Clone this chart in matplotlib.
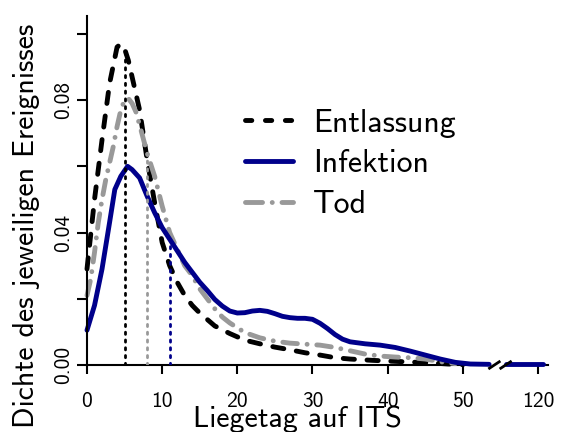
import matplotlib
matplotlib.use("Agg")
from matplotlib import pyplot as plt
from matplotlib.lines import Line2D
import numpy as np

plt.rcParams['font.family'] = ['cmss10', 'DejaVu Sans']
plt.rcParams['axes.unicode_minus'] = False

# density per day on ICU, by event
days_ent = [0, 1, 2, 3, 4, 4.5, 5, 5.5, 6, 7, 8, 9, 10, 11, 12, 13, 14, 15, 17, 19,
            21, 23, 25, 27, 29, 31, 33, 35, 38, 42, 46, 48, 50]
dens_ent = [0.029, 0.05, 0.068, 0.085, 0.096, 0.097, 0.0955, 0.092, 0.087, 0.077,
            0.062, 0.049, 0.037, 0.030, 0.025, 0.021, 0.018, 0.0157, 0.0118, 0.0095,
            0.0075, 0.0064, 0.0054, 0.0046, 0.0037, 0.003, 0.0022, 0.0018, 0.0014,
            0.001, 0.0006, 0.0003, 0.0001]

days_tod = [0, 0.5, 1, 1.5, 2, 2.5, 3, 3.5, 4, 4.5, 5, 5.5, 6, 6.5, 7, 8, 9, 10, 11,
            12, 13, 14, 15, 16, 17, 18, 19, 21, 23, 25, 27, 29, 31, 33, 35, 37, 39,
            41, 43, 45, 47, 49]
dens_tod = [0.021, 0.026, 0.034, 0.043, 0.05, 0.056, 0.061, 0.066, 0.072, 0.077,
            0.080, 0.0805, 0.079, 0.0765, 0.0725, 0.064, 0.057, 0.048, 0.040, 0.035,
            0.030, 0.027, 0.023, 0.020, 0.017, 0.0145, 0.0127, 0.0098, 0.0082,
            0.0072, 0.0066, 0.0063, 0.006, 0.0053, 0.0043, 0.0033, 0.0027, 0.0024,
            0.0022, 0.0018, 0.001, 0.0004]

days_inf = [0, 1, 2, 3, 3.7, 4.5, 5.4, 6, 7, 8, 9, 10, 11, 12, 13, 14, 15, 16, 17,
            18, 19, 20, 21, 22, 23, 24, 25, 26, 27, 28, 29, 30, 31, 32, 33, 34, 35,
            37, 39, 41, 43, 45, 47, 49, 51, 53.5]
dens_inf = [0.0105, 0.018, 0.029, 0.043, 0.053, 0.057, 0.060, 0.059, 0.0565, 0.051,
            0.046, 0.0415, 0.038, 0.0345, 0.031, 0.028, 0.025, 0.0225, 0.0198,
            0.0178, 0.0163, 0.0157, 0.0158, 0.0163, 0.0165, 0.0162, 0.0155, 0.0147,
            0.0143, 0.0141, 0.0141, 0.0138, 0.0126, 0.011, 0.0092, 0.0078, 0.007,
            0.0064, 0.006, 0.0053, 0.0042, 0.003, 0.0018, 0.0008, 0.0003, 0.0002]
# part after the axis break
days_inf_tail = [115.8, 118, 120.7]
dens_inf_tail = [0.0002, 0.0002, 0.0002]

# medians (dotted vertical lines)
med_ent, med_tod, med_inf = 5, 8, 11

xtick_days = [0, 10, 20, 30, 40, 50, 120]
ytick_vals = [0.0, 0.02, 0.04, 0.06, 0.08, 0.10]
ytick_labels = ['0.00', '', '0.04', '', '0.08', '']

shift = 60  # days beyond the break are drawn at day - shift


def pos(d):
    d = np.asarray(d, dtype=float)
    return np.where(d > 60, d - shift, d)


black = 'black'
grey = '#999999'
blue = '#00008B'

fig = plt.figure(figsize=(5.62, 4.32), dpi=100)
ax = fig.add_axes([87 / 562, 67 / 432, 466 / 562, 351 / 432])
ax.set_xlim(0, 62)
ax.set_ylim(0, 0.106)

lw = 3.5
ax.plot(pos(days_ent), dens_ent, color=black, lw=lw, linestyle=(0, (2.3, 2.6)),
        dash_capstyle='round', clip_on=False)
ax.plot(pos(days_tod), dens_tod, color=grey, lw=lw,
        linestyle=(0, (3.0, 2.0, 0.01, 2.0)), dash_capstyle='round', clip_on=False)
ax.plot(pos(days_inf), dens_inf, color=blue, lw=lw, solid_capstyle='round', clip_on=False)
ax.plot(pos(days_inf_tail), dens_inf_tail, color=blue, lw=lw, solid_capstyle='round',
        clip_on=False)

for m, d, v, c in [(med_ent, days_ent, dens_ent, black),
                   (med_tod, days_tod, dens_tod, grey),
                   (med_inf, days_inf, dens_inf, blue)]:
    ax.plot([m, m], [0, np.interp(m, d, v)], color=c, lw=2,
            linestyle=(0, (0.8, 2.0)), dash_capstyle='round')

# axes
for s in ['top', 'right', 'bottom']:
    ax.spines[s].set_visible(False)
ax.spines['left'].set_linewidth(1.5)
ax.spines['left'].set_bounds(0, 0.1055)
ax.plot([0, 53.6], [0, 0], color='black', lw=1.5, clip_on=False, zorder=1)
ax.plot([56.2, 61.4], [0, 0], color='black', lw=1.5, clip_on=False, zorder=1)
for x0 in [53.4, 54.9]:
    ax.plot([x0, x0 + 1.6], [-0.0012, 0.0012], color='black', lw=2, clip_on=False,
            solid_capstyle='butt')

ax.set_xticks(pos(xtick_days))
ax.set_xticklabels([str(d) for d in xtick_days])
ax.set_yticks(ytick_vals)
ax.set_yticklabels(ytick_labels, rotation=90, va='center')
ax.tick_params(axis='x', length=6.5, width=1.5, pad=13, labelsize=15.5)
ax.tick_params(axis='y', length=7, width=1.5, pad=3, labelsize=15.5)

fig.text(27 / 562, 1 - 226 / 432, 'Dichte des jeweiligen Ereignisses', rotation=90,
         ha='center', va='center', fontsize=21.5)
fig.text(297 / 562, 5 / 432, 'Liegetag auf ITS', ha='center', va='baseline',
         fontsize=21.5)

handles = [
    Line2D([], [], color=black, lw=lw, linestyle=(0, (1.3, 2.8)), dash_capstyle='round'),
    Line2D([], [], color=blue, lw=lw, solid_capstyle='round'),
    Line2D([], [], color=grey, lw=lw, linestyle=(0, (3.5, 2.0, 0.01, 2.0)),
           dash_capstyle='round'),
]
ax.legend(handles, ['Entlassung', 'Infektion', 'Tod'], frameon=False,
          fontsize=23, handlelength=1.5, handletextpad=0.63, labelspacing=0.37,
          loc='center left', bbox_to_anchor=(245 / 562, 1 - 164 / 432),
          bbox_transform=fig.transFigure, borderaxespad=0, borderpad=0)

fig.savefig('out.png', dpi=100)
